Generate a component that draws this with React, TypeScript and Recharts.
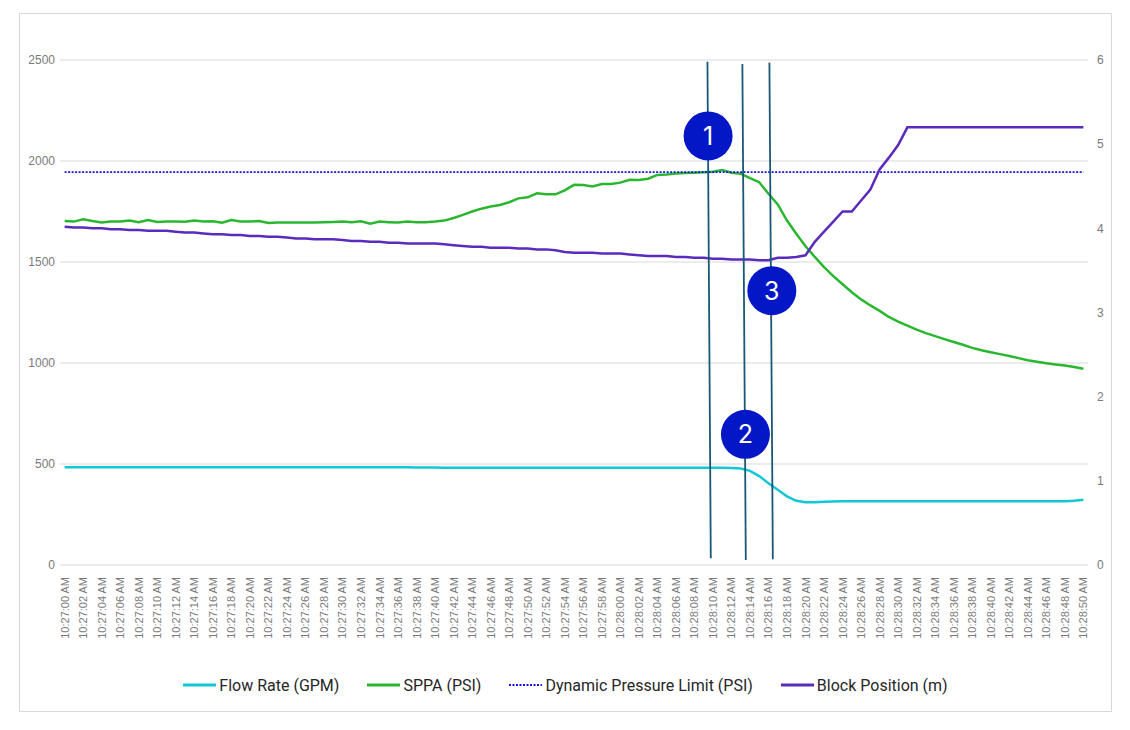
import {
  LineChart,
  Line,
  XAxis,
  YAxis,
  CartesianGrid,
  Legend,
  ReferenceLine,
  ReferenceDot,
} from "recharts";

// One sample per second, 10:27:00 AM .. 10:28:50 AM
const TIMES = Array.from({ length: 111 }, (_, i) => {
  const min = 27 + Math.floor(i / 60);
  const sec = String(i % 60).padStart(2, "0");
  return `10:${min}:${sec} AM`;
});

const FLOW_RATE = [
  484, 484, 484, 484, 484, 484, 484, 484, 484, 484,
  484, 484, 484, 484, 484, 484, 484, 484, 484, 484,
  484, 484, 484, 484, 484, 484, 484, 484, 484, 484,
  484, 484, 484, 484, 484, 484, 484, 484, 483, 483,
  483, 482, 482, 482, 481, 481, 481, 481, 481, 481,
  481, 481, 481, 481, 481, 481, 481, 481, 481, 481,
  481, 481, 481, 481, 481, 481, 481, 481, 481, 481,
  481, 481, 480, 478, 466, 440, 405, 372, 340, 318,
  311, 311, 313, 314, 315, 316, 316, 316, 316, 316,
  316, 316, 316, 316, 316, 316, 316, 316, 316, 316,
  316, 316, 316, 315, 315, 315, 315, 315, 316, 318,
  323,
];

const SPPA = [
  1703, 1700, 1712, 1703, 1696, 1700, 1700, 1705, 1697, 1708,
  1698, 1700, 1700, 1699, 1705, 1700, 1702, 1694, 1708, 1701,
  1700, 1703, 1693, 1695, 1696, 1696, 1695, 1695, 1697, 1698,
  1700, 1697, 1702, 1690, 1700, 1697, 1695, 1700, 1697, 1697,
  1700, 1705, 1718, 1733, 1750, 1764, 1775, 1782, 1796, 1815,
  1820, 1840, 1835, 1835, 1855, 1882, 1881, 1874, 1886, 1886,
  1893, 1907, 1906, 1912, 1931, 1933, 1938, 1940, 1942, 1944,
  1947, 1955, 1942, 1937, 1915, 1895, 1838, 1785, 1705, 1640,
  1578, 1525, 1475, 1430, 1390, 1350, 1315, 1285, 1258, 1228,
  1205, 1185, 1165, 1148, 1133, 1118, 1104, 1090, 1075, 1063,
  1053, 1044, 1035, 1024, 1014, 1006, 999, 993, 988, 980,
  972,
];

const PRESSURE_LIMIT = 1945;

const BLOCK_POSITION = [
  4.02, 4.01, 4.01, 4.0, 4.0, 3.99, 3.99, 3.98, 3.98, 3.97,
  3.97, 3.97, 3.96, 3.95, 3.95, 3.94, 3.93, 3.93, 3.92, 3.92,
  3.91, 3.91, 3.9, 3.9, 3.89, 3.88, 3.88, 3.87, 3.87, 3.87,
  3.86, 3.85, 3.85, 3.84, 3.84, 3.83, 3.83, 3.82, 3.82, 3.82,
  3.82, 3.81, 3.8, 3.79, 3.78, 3.78, 3.77, 3.77, 3.77, 3.76,
  3.76, 3.75, 3.75, 3.74, 3.72, 3.71, 3.71, 3.71, 3.7, 3.7,
  3.7, 3.69, 3.68, 3.67, 3.67, 3.67, 3.66, 3.66, 3.65, 3.65,
  3.64, 3.64, 3.63, 3.63, 3.63, 3.62, 3.62, 3.65, 3.65, 3.66,
  3.68, 3.84, 3.96, 4.08, 4.2, 4.2, 4.33, 4.46, 4.7, 4.84,
  4.99, 5.2, 5.2, 5.2, 5.2, 5.2, 5.2, 5.2, 5.2, 5.2,
  5.2, 5.2, 5.2, 5.2, 5.2, 5.2, 5.2, 5.2, 5.2, 5.2,
  5.2,
];

const LEFT_TICKS = [0, 500, 1000, 1500, 2000, 2500];
const RIGHT_TICKS = [0, 1, 2, 3, 4, 5, 6];
const X_TICKS = TIMES.map((_, i) => i).filter((i) => i % 2 === 0);

// event markers: vertical guide (top/bottom in data units) and numbered badge
const MARKERS = [
  { label: "1", top: [69.41, 2491], bottom: [69.77, 33], badge: [69.48, 2124] },
  { label: "2", top: [73.18, 2480], bottom: [73.55, 25], badge: [73.51, 647] },
  { label: "3", top: [76.1, 2487], bottom: [76.47, 28], badge: [76.36, 1358] },
];

// pressure and flow share the left scale, block position uses the right one
const SERIES = [
  { key: "flow", name: "Flow Rate (GPM)", color: "#10c8d5", axis: "left", width: 2.5, dash: undefined },
  { key: "sppa", name: "SPPA (PSI)", color: "#2ab72f", axis: "left", width: 2.5, dash: undefined },
  { key: "limit", name: "Dynamic Pressure Limit (PSI)", color: "#1414e4", axis: "left", width: 1.8, dash: "2 1.5" },
  { key: "block", name: "Block Position (m)", color: "#5b2bbd", axis: "right", width: 2.5, dash: undefined },
];

const data = TIMES.map((time, i) => ({
  t: i,
  time,
  flow: FLOW_RATE[i],
  sppa: SPPA[i],
  limit: PRESSURE_LIMIT,
  block: BLOCK_POSITION[i],
}));

const TICK_FONT = "'Liberation Sans', Arial, sans-serif";

const TimeTick = ({ x, y, payload }: any) => (
  <text
    transform={`translate(${x},${y + 12}) rotate(-90)`}
    textAnchor="end"
    dominantBaseline="central"
    fontSize={11}
    fontFamily={TICK_FONT}
    fill="#7a7a7a"
  >
    {TIMES[payload.value]}
  </text>
);

const ChartLegend = () => (
  <div
    style={{
      display: "flex",
      justifyContent: "center",
      alignItems: "center",
      height: 30,
      fontFamily: "Roboto, sans-serif",
      fontSize: 16,
      color: "#262626",
    }}
  >
    {SERIES.map((s) => (
      <div key={s.key} style={{ display: "flex", alignItems: "center", margin: "0 14px" }}>
        <svg width={33} height={10} style={{ marginRight: 3 }}>
          <line
            x1={0}
            y1={5}
            x2={33}
            y2={5}
            stroke={s.color}
            strokeWidth={s.dash ? 1.8 : 3}
            strokeDasharray={s.dash}
          />
        </svg>
        <span>{s.name}</span>
      </div>
    ))}
  </div>
);

export default function App() {
  return (
    <div
      style={{
        position: "absolute",
        left: 19,
        top: 13,
        width: 1093,
        height: 699,
        border: "1px solid #d9d9d9",
        boxSizing: "border-box",
        background: "#fff",
      }}
    >
      <LineChart
        width={1091}
        height={697}
        data={data}
        margin={{ top: 46, right: 0, bottom: 11, left: 0 }}
      >
        <CartesianGrid vertical={false} stroke="#d9d9d9" yAxisId="left" />
        <XAxis
          dataKey="t"
          type="number"
          domain={[-0.5, 110.5]}
          ticks={X_TICKS}
          interval={0}
          tick={<TimeTick />}
          tickLine={false}
          axisLine={false}
          tickSize={0}
          tickMargin={0}
          height={105}
        />
        <YAxis
          yAxisId="left"
          domain={[0, 2500]}
          ticks={LEFT_TICKS}
          width={40}
          tickLine={false}
          axisLine={false}
          tickSize={0}
          tickMargin={5}
          tick={{ fontSize: 12, fill: "#7a7a7a", fontFamily: TICK_FONT }}
        />
        <YAxis
          yAxisId="right"
          orientation="right"
          domain={[0, 6]}
          ticks={RIGHT_TICKS}
          width={23}
          tickLine={false}
          axisLine={false}
          tickSize={0}
          tickMargin={9}
          tick={{ fontSize: 12, fill: "#7a7a7a", fontFamily: TICK_FONT }}
        />
        <Legend verticalAlign="bottom" height={30} content={<ChartLegend />} />

        {SERIES.map((s) => (
          <Line
            key={s.key}
            yAxisId={s.axis}
            dataKey={s.key}
            name={s.name}
            stroke={s.color}
            strokeWidth={s.width}
            strokeDasharray={s.dash}
            dot={false}
            activeDot={false}
            isAnimationActive={false}
          />
        ))}

        {MARKERS.map((m) => (
          <ReferenceLine
            key={`line-${m.label}`}
            yAxisId="left"
            segment={[
              { x: m.top[0], y: m.top[1] },
              { x: m.bottom[0], y: m.bottom[1] },
            ]}
            stroke="#1b5878"
            strokeWidth={1.8}
          />
        ))}
        {MARKERS.map((m) => (
          <ReferenceDot
            key={`dot-${m.label}`}
            yAxisId="left"
            x={m.badge[0]}
            y={m.badge[1]}
            r={24.5}
            fill="#0417c7"
            stroke="none"
            label={{
              value: m.label,
              position: "center",
              fill: "#ffffff",
              fontSize: 25,
              fontFamily: "Inter, sans-serif",
            }}
          />
        ))}
      </LineChart>
    </div>
  );
}
